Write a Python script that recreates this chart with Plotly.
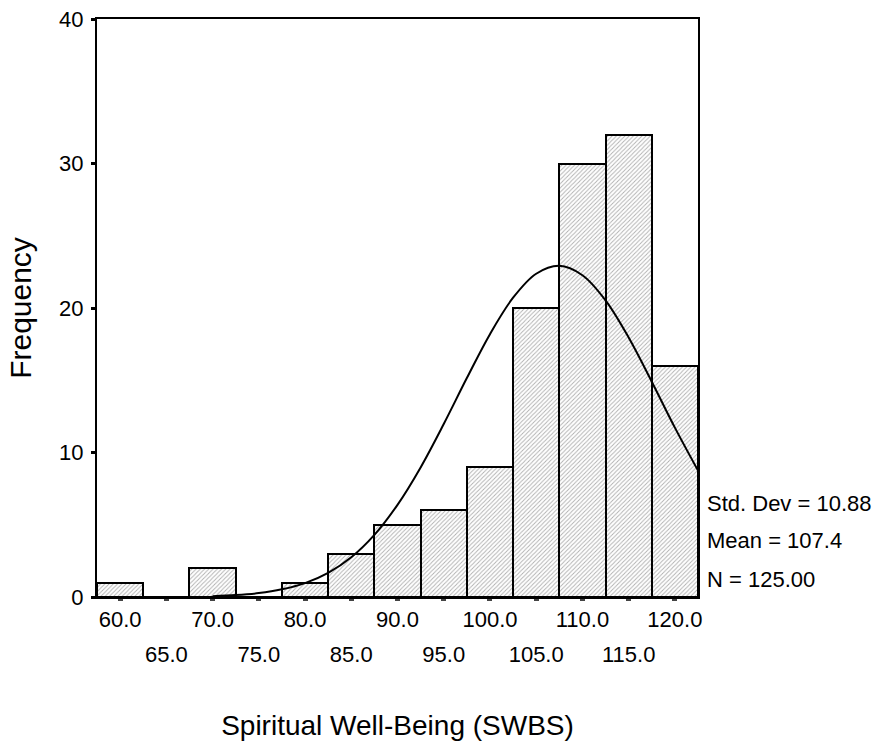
import plotly.graph_objects as go

# Histogram bins (midpoints) and frequencies
bin_centers = [60, 65, 70, 75, 80, 85, 90, 95, 100, 105, 110, 115, 120]
frequencies = [1, 0, 2, 0, 1, 3, 5, 6, 9, 20, 30, 32, 16]
bin_width = 5

# Normal curve points
curve_x = [70, 72.5, 75, 77.5, 80, 82.5, 85, 87.5, 90, 92.5, 95, 97.5, 100,
           102.5, 105, 107.5, 110, 112.5, 115, 117.5, 120, 122.5]
curve_y = [0.06, 0.13, 0.27, 0.53, 0.96, 1.67, 2.75, 4.3, 6.38, 8.97, 11.97, 15.15, 18.19,
           20.71, 22.37, 22.92, 22.27, 20.53, 17.96, 14.9, 11.72, 8.75]

even_labels = [60, 70, 80, 90, 100, 110, 120]
odd_labels = [65, 75, 85, 95, 105, 115]
y_ticks = [0, 10, 20, 30, 40]

stats_text = ["Std. Dev = 10.88", "Mean = 107.4", "N = 125.00"]
stats_y = [6.5, 3.88, 1.21]

FONT = "Liberation Sans, Arial, sans-serif"

fig = go.Figure()
fig.add_trace(go.Bar(
    x=bin_centers, y=frequencies, width=bin_width,
    marker=dict(color="white", line=dict(color="black", width=2),
                pattern=dict(shape="/", fgcolor="#606060", bgcolor="white", size=3, solidity=0.3)),
    showlegend=False, hoverinfo="x+y"))
fig.add_trace(go.Scatter(
    x=curve_x, y=curve_y, mode="lines", line=dict(color="black", width=2, shape="spline"),
    showlegend=False, cliponaxis=True))
# secondary axis to carry the lower row of tick labels
fig.add_trace(go.Scatter(x=odd_labels, y=[None]*len(odd_labels), xaxis="x2", showlegend=False,
                         mode="markers", hoverinfo="skip"))

fig.update_layout(
    width=876, height=742,
    margin=dict(l=97, r=178, t=19, b=145),
    paper_bgcolor="white", plot_bgcolor="white",
    bargap=0,
    font=dict(family=FONT, size=22, color="black"),
    xaxis=dict(
        range=[57.5, 122.5], tickmode="array",
        tickvals=bin_centers,
        ticktext=[f"{v:.1f}" if v in even_labels else "" for v in bin_centers],
        ticks="outside", ticklen=2, tickwidth=5, tickcolor="#444444",
        showline=True, linecolor="black", linewidth=2, mirror=True,
        showgrid=False, zeroline=False, automargin=False,
        tickfont=dict(size=22),
        title=dict(text="Spiritual Well-Being (SWBS)", font=dict(size=28), standoff=84),
    ),
    xaxis2=dict(
        range=[57.5, 122.5], overlaying="x", side="bottom", anchor="y",
        tickmode="array", tickvals=odd_labels, ticktext=[f"{v:.1f}" for v in odd_labels],
        ticks="", showline=False, showgrid=False, zeroline=False, automargin=False,
        tickfont=dict(size=22), ticklabelstandoff=42,
    ),
    yaxis=dict(
        range=[0, 40], tickmode="array", tickvals=y_ticks, ticktext=[str(v) for v in y_ticks],
        ticks="outside", ticklen=4, tickwidth=3, tickcolor="black",
        showline=True, linecolor="black", linewidth=2, mirror=True,
        showgrid=False, zeroline=False, ticklabelstandoff=3, automargin=False,
        tickfont=dict(size=22),
        title=dict(text="Frequency", font=dict(size=30), standoff=19),
    ),
)

for t, yv in zip(stats_text, stats_y):
    fig.add_annotation(x=1.012, xref="paper", y=yv, yref="y", text=t, showarrow=False,
                       xanchor="left", yanchor="middle", font=dict(size=22, family=FONT))

fig.write_html("out.html", config={"displayModeBar": False},
               post_script="document.body.style.margin='0px';document.body.style.overflow='hidden';")
